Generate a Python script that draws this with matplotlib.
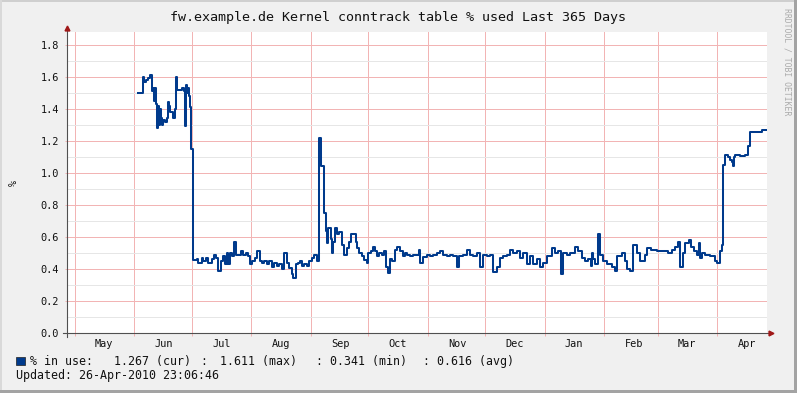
import datetime as dt

import matplotlib

matplotlib.use("Agg")
import matplotlib.pyplot as plt
from matplotlib.lines import Line2D
from matplotlib.patches import Rectangle

W, H = 797, 393
plt.rcParams["font.family"] = "DejaVu Sans Mono"

START = dt.datetime(2009, 4, 26, 23, 6, 46)
SPAN_DAYS = 365
MONTHS = ["May", "Jun", "Jul", "Aug", "Sep", "Oct", "Nov", "Dec", "Jan", "Feb", "Mar", "Apr"]
MONTH_STARTS = [dt.datetime(2009, m, 1) for m in range(5, 13)] + [dt.datetime(2010, m, 1) for m in range(1, 5)]

TITLE = "fw.example.de Kernel conntrack table % used Last 365 Days"
SERIES_NAME = "% in use:"
STATS = [("", "1.267 (cur)"), (":", "1.611 (max)"), (":", "0.341 (min)"), (":", "0.616 (avg)")]
UPDATED = "Updated: 26-Apr-2010 23:06:46"
WATERMARK = "RRDTOOL / TOBI OETIKER"

# days since START, value in % (step changes)
DAYS = [37.0, 39.6, 40.4, 41.2, 42.2, 43.3, 44.3, 44.8, 45.4, 45.9, 46.4, 46.9, 47.5, 48.0, 48.5,
        49.0, 49.5, 50.3, 51.1, 52.1, 52.7, 53.2, 53.7, 55.3, 56.3, 56.8, 57.4, 60.0, 61.0, 61.5,
        62.0, 62.6, 63.1, 63.6, 64.1, 64.9, 65.7,
        67.6, 68.5, 70.2, 71.1, 72.5, 73.7, 75.4, 76.7, 77.7, 78.9, 80.1, 81.2, 82.4, 83.3, 84.1,
        85.0, 85.9, 87.1, 88.1, 90.7, 91.9, 93.2, 94.2, 95.4, 96.6, 98.0, 99.2, 100.6, 101.5, 102.7,
        104.1, 105.5, 106.7, 107.9, 109.3, 110.5, 112.0, 113.3, 114.6, 115.9, 117.2, 118.0, 119.2,
        120.3, 121.5, 122.7, 123.6, 125.0, 126.2, 127.6, 128.8, 130.2, 131.6, 132.4, 134.0, 135.1,
        135.6, 136.3, 137.5, 138.2, 138.9, 139.7, 140.9, 142.0, 143.2, 144.4, 145.8, 147.0, 147.9,
        150.5, 151.4, 152.4, 153.7, 154.9, 156.3, 157.1, 158.4, 159.4, 160.6, 161.5, 162.7, 164.1,
        165.3, 166.3, 167.5, 168.4, 169.6, 171.0, 172.2, 173.6, 175.0, 176.2, 177.4, 178.9, 180.6,
        183.6, 184.1, 185.8, 187.6, 189.3, 191.0, 192.8, 194.5, 196.2, 198.0, 199.7, 201.4, 203.2,
        204.6, 206.3, 208.4, 210.1, 211.9, 213.6, 215.4, 217.1, 218.8, 220.6, 222.3, 224.1, 225.8,
        227.5, 229.3, 231.0, 232.4, 234.5, 236.2, 237.9, 239.7, 241.4, 243.1, 244.9, 246.6, 248.4,
        250.1, 252.7, 254.5, 256.2, 257.4, 258.8, 260.6, 262.3, 264.9, 266.6, 268.4, 270.1, 271.8,
        273.1, 273.6, 274.1, 275.3, 277.0, 277.9, 279.6, 281.4, 284.0, 285.7, 286.9, 289.2, 291.0,
        292.2, 293.6, 295.0, 297.0, 298.8, 301.4, 302.6, 304.4, 307.5, 313.6, 315.3, 317.1, 318.8,
        319.7, 321.1, 322.3, 324.1, 325.3, 326.7, 328.4, 329.7, 330.2, 330.9, 332.7, 335.3, 337.9,
        338.8, 340.5, 341.4, 342.2, 343.1, 344.8, 345.7, 346.6, 347.4, 347.9, 348.3, 350.9, 353.5,
        355.3, 356.1, 362.2, 364.5]
PCT = [1.50, 1.60, 1.57, 1.58, 1.59, 1.61, 1.51, 1.53, 1.45, 1.53, 1.43, 1.28, 1.42, 1.30, 1.40,
       1.34, 1.30, 1.33, 1.32, 1.34, 1.44, 1.42, 1.38, 1.34, 1.40, 1.60, 1.52, 1.53, 1.51, 1.29,
       1.55, 1.50, 1.53, 1.48, 1.41, 1.15, 0.455,
       0.46, 0.44, 0.47, 0.45, 0.47, 0.44, 0.46, 0.49, 0.47, 0.39, 0.45, 0.48, 0.43, 0.50, 0.43,
       0.50, 0.48, 0.57, 0.49, 0.51, 0.49, 0.50, 0.48, 0.43, 0.45, 0.47, 0.51, 0.45, 0.44, 0.45,
       0.43, 0.45, 0.41, 0.44, 0.42, 0.43, 0.40, 0.50, 0.44, 0.405, 0.37, 0.341, 0.43,
       0.44, 0.45, 0.42, 0.43, 0.42, 0.45, 0.47, 0.49, 0.45, 1.22, 1.04, 0.75, 0.64,
       0.56, 0.655, 0.59, 0.50, 0.57, 0.655, 0.62, 0.63, 0.55, 0.49, 0.53, 0.57, 0.62,
       0.57, 0.53, 0.50, 0.48, 0.456, 0.44, 0.50, 0.51, 0.54, 0.51, 0.48, 0.50, 0.49,
       0.51, 0.41, 0.375, 0.46, 0.45, 0.52, 0.54, 0.51, 0.48, 0.50, 0.49, 0.48, 0.49,
       0.52, 0.44, 0.477, 0.49, 0.48, 0.49, 0.50, 0.51, 0.49, 0.48, 0.49, 0.48, 0.415,
       0.48, 0.49, 0.52, 0.49, 0.48, 0.50, 0.415, 0.49, 0.48, 0.49, 0.38, 0.415, 0.47,
       0.48, 0.49, 0.52, 0.50, 0.51, 0.47, 0.50, 0.43, 0.48, 0.43, 0.46, 0.415, 0.44,
       0.48, 0.53, 0.50, 0.51, 0.37, 0.50, 0.49, 0.50, 0.54, 0.51, 0.47, 0.45, 0.46,
       0.42, 0.50, 0.46, 0.43, 0.62, 0.49, 0.45, 0.43, 0.415, 0.39, 0.48, 0.50, 0.45,
       0.40, 0.39, 0.55, 0.50, 0.45, 0.49, 0.53, 0.52, 0.51, 0.50, 0.52, 0.54, 0.57,
       0.415, 0.50, 0.56, 0.58, 0.54, 0.51, 0.49, 0.56, 0.47, 0.50, 0.49, 0.48, 0.45,
       0.435, 0.51, 0.55, 1.05, 1.11, 1.10, 1.08, 1.07, 1.04, 1.10, 1.11, 1.106, 1.11,
       1.165, 1.258, 1.267, 1.267]

LINE_COLOR = "#003a8c"
MGRID = "#f2b4b4"
GRID = "#e6e6e6"
AXIS = "#505050"
ARROW = "#a01818"


def px(x, y):
    # pixel position (from top-left) -> figure fraction
    return x / W, 1 - y / H


fig = plt.figure(figsize=(W / 100, H / 100), dpi=100, facecolor="#f0f0f0")
left, bottom = px(67, 333)
ax = fig.add_axes([left, bottom, 700 / W, 301 / H], facecolor="white")

ax.plot(DAYS, PCT, drawstyle="steps-post", color=LINE_COLOR, linewidth=1.45, zorder=3)

ax.set_xlim(0, SPAN_DAYS)
ax.set_ylim(0, 1.88)

month_pos = [(m - START).total_seconds() / 86400 for m in MONTH_STARTS]
ax.set_xticks(month_pos)
ax.set_xticklabels([])
ax.set_xticks([p + 15.4 for p in month_pos], MONTHS, minor=True)
ax.set_yticks([i * 0.2 for i in range(10)], [f"{i * 0.2:.1f}" for i in range(10)])
ax.set_yticks([i * 0.2 + 0.1 for i in range(9)], minor=True)

ax.xaxis.grid(True, which="major", color=MGRID, linewidth=0.72)
ax.yaxis.grid(True, which="major", color=MGRID, linewidth=0.72)
ax.yaxis.grid(True, which="minor", color=GRID, linewidth=0.72)
ax.set_axisbelow(True)

ax.tick_params(axis="x", which="major", length=2.3, width=0.72, color=MGRID, direction="out")
ax.tick_params(axis="x", which="minor", length=0, pad=4.6, labelsize=7.4, colors="#111111")
ax.tick_params(axis="y", which="major", length=1.6, width=0.72, color=MGRID, direction="out",
               pad=4.0, labelsize=7.4, labelcolor="#111111")
ax.tick_params(axis="y", which="minor", length=0)
for s in ax.spines.values():
    s.set_visible(False)

# axes lines with arrows
fig.add_artist(Line2D(*zip(px(67, 337), px(67, 29)), color=AXIS, linewidth=0.8))
fig.add_artist(Line2D(*zip(px(63, 333), px(770, 333)), color=AXIS, linewidth=0.8))
fig.add_artist(Line2D([px(67, 28)[0]], [px(67, 28)[1]], marker="^", markersize=3.5,
                      color=ARROW, linestyle="none"))
fig.add_artist(Line2D([px(771, 333)[0]], [px(771, 333)[1]], marker=">", markersize=3.5,
                      color=ARROW, linestyle="none"))

fig.text(*px(398.5, 20.7), TITLE, ha="center", va="baseline", fontsize=9.6, color="#111111")
fig.text(*px(14, 183), "%", rotation=90, ha="center", va="center", fontsize=7.4, color="#111111")
fig.text(*px(787, 8), WATERMARK, rotation=270, ha="center", va="top", fontsize=5.9, color="#ababab")

# legend
x0, y0 = px(16, 365)
fig.add_artist(Rectangle((x0, y0), 9 / W, 8 / H, transform=fig.transFigure,
                         facecolor=LINE_COLOR, edgecolor="#202020", linewidth=0.5))
fig.text(*px(29.5, 365), SERIES_NAME, ha="left", va="baseline", fontsize=8.4, color="#111111")
colon_x = [None, 199.8, 315.4, 422.1]
value_x = [113.8, 219.6, 329.6, 437.0]
for (sep, val), cx, vx in zip(STATS, colon_x, value_x):
    if sep:
        fig.text(*px(cx, 365), sep, ha="left", va="baseline", fontsize=8.4, color="#111111")
    fig.text(*px(vx, 365), val, ha="left", va="baseline", fontsize=8.4, color="#111111")
fig.text(*px(15.7, 379), UPDATED, ha="left", va="baseline", fontsize=8.4, color="#111111")

# 3d frame around the canvas
for (x, y, w, h, c) in [(0, 0, W, 2, "#cfcfcf"), (0, 0, 2, H, "#d9d9d9"),
                        (W - 3, 0, 3, H, "#a3a3a3"), (0, H - 3, W, 3, "#a3a3a3")]:
    fx, fy = px(x, y + h)
    fig.add_artist(Rectangle((fx, fy), w / W, h / H, transform=fig.transFigure,
                             facecolor=c, edgecolor="none"))

fig.savefig("out.png", dpi=100, facecolor=fig.get_facecolor())
